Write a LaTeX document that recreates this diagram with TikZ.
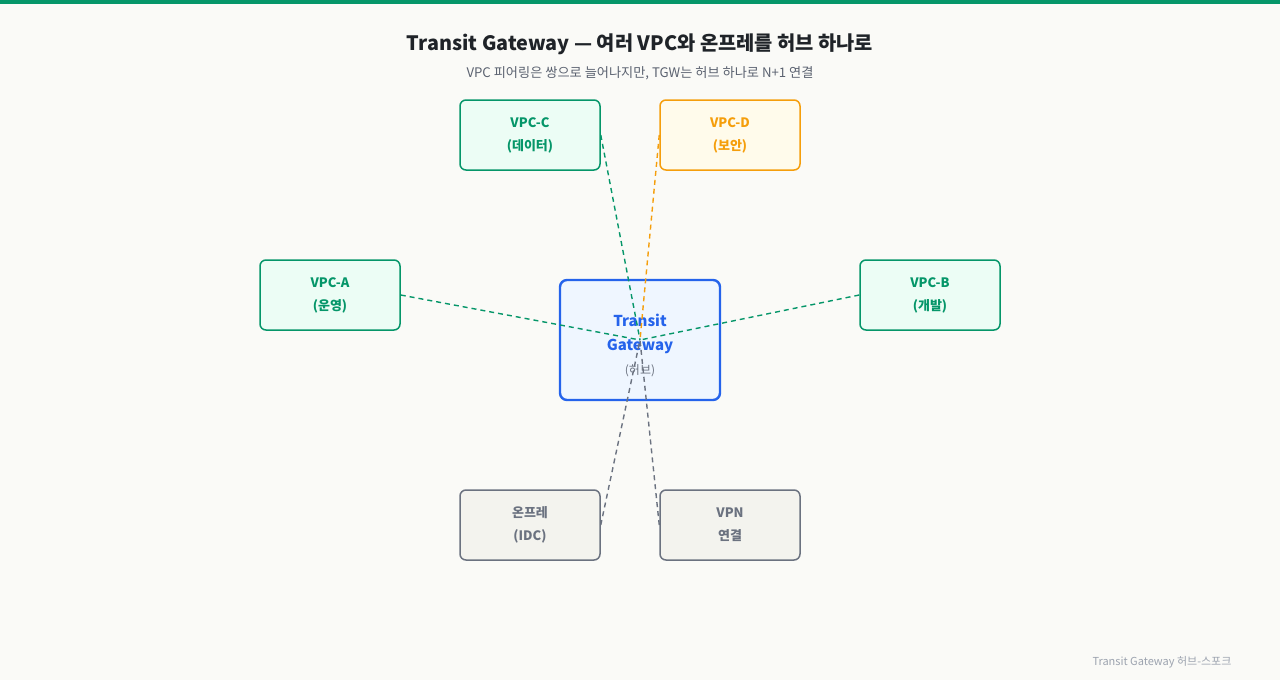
\documentclass[tikz,border=0pt]{standalone}
\usepackage{fontspec}
\setmainfont{Noto Sans CJK KR}
\definecolor{bg}{HTML}{FAFAF7}
\definecolor{topbar}{HTML}{059669}
\definecolor{grn}{HTML}{059669}
\definecolor{grnfill}{HTML}{ECFDF5}
\definecolor{org}{HTML}{F59E0B}
\definecolor{orgfill}{HTML}{FFFBEB}
\definecolor{gry}{HTML}{6B7280}
\definecolor{gryfill}{HTML}{F3F3EE}
\definecolor{blu}{HTML}{2563EB}
\definecolor{blufill}{HTML}{EFF6FF}
\definecolor{titlec}{HTML}{1F2328}
\definecolor{subc}{HTML}{5B6270}
\definecolor{footc}{HTML}{9CA3AF}
\tikzset{
  box/.style={rectangle, rounded corners=6pt, line width=1.5pt, minimum width=140pt, minimum height=70pt, align=center, inner sep=0pt, font=\fontsize{13}{23}\selectfont\bfseries},
  gbox/.style={box, draw=grn, fill=grnfill, text=grn},
  obox/.style={box, draw=org, fill=orgfill, text=org},
  ybox/.style={box, draw=gry, fill=gryfill, text=gry},
  link/.style={dashed, dash pattern=on 5pt off 4pt, line width=1.4pt},
}
\begin{document}
\begin{tikzpicture}[x=1pt,y=-1pt]
\useasboundingbox (0,0) rectangle (1280,680);
\fill[bg] (0,0) rectangle (1280,680);
\fill[topbar] (0,0) rectangle (1280,4);
\node[font=\fontsize{19.8}{24}\selectfont\bfseries, text=titlec] (title) at (640,44.5) {Transit Gateway — 여러 VPC와 온프레를 허브 하나로};
\node[font=\fontsize{13.2}{15}\selectfont, text=subc] (sub) at (640,73.5) {VPC 피어링은 쌍으로 늘어나지만, TGW는 허브 하나로 N+1 연결};
\node[gbox] (c) at (530,135) {VPC-C\\(데이터)};
\node[obox] (d) at (730,135) {VPC-D\\(보안)};
\node[gbox] (a) at (330,295) {VPC-A\\(운영)};
\node[gbox] (b) at (930,295) {VPC-B\\(개발)};
\node[ybox] (idc) at (530,525) {온프레\\(IDC)};
\node[ybox] (vpn) at (730,525) {VPN\\연결};
\node[rectangle, rounded corners=7pt, line width=2.4pt, draw=blu, fill=blufill, minimum width=160pt, minimum height=120pt, inner sep=0pt] (tgw) at (640,340) {};
\node[font=\fontsize{15}{24}\selectfont\bfseries, text=blu, align=center] (tgwt) at (640,334) {Transit\\Gateway};
\node[font=\fontsize{12}{14}\selectfont, text=gry] (tgws) at (640,370.5) {(허브)};
\draw[link, grn] (a.east) -- (tgw.center);
\draw[link, grn] (b.west) -- (tgw.center);
\draw[link, grn] (c.east) -- (tgw.center);
\draw[link, org] (d.west) -- (tgw.center);
\draw[link, gry] (idc.east) -- (tgw.center);
\draw[link, gry] (vpn.west) -- (tgw.center);
\node[font=\fontsize{11}{13}\selectfont, text=footc] (foot) at (1162,662) {Transit Gateway 허브-스포크};
\end{tikzpicture}
\end{document}
